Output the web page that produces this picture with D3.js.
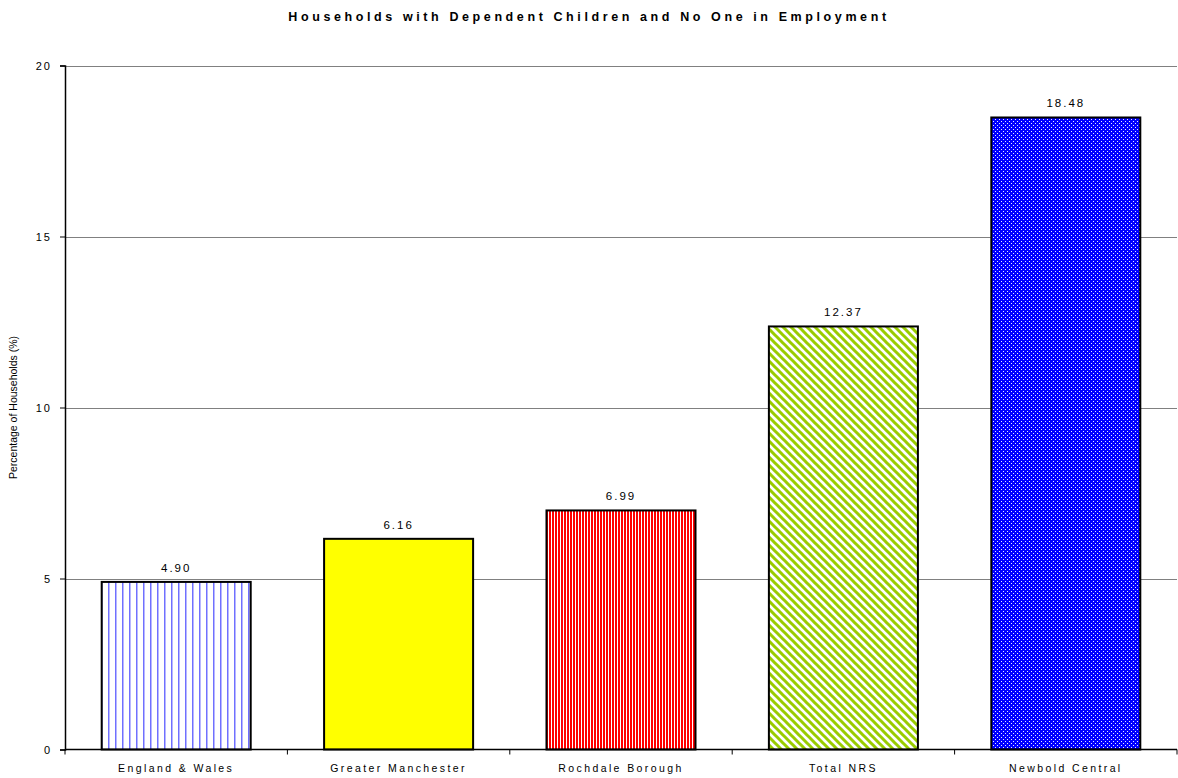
<!DOCTYPE html>
<html>
<head>
<meta charset="utf-8">
<script src="https://cdn.jsdelivr.net/npm/d3@7"></script>
<style>
html,body{margin:0;padding:0;background:#fff;}
svg{display:block;font-family:"Liberation Sans",Arial,sans-serif;}
</style>
</head>
<body>
<svg id="chart" width="1178" height="778"></svg>
<script>
const categories = ["England & Wales", "Greater Manchester", "Rochdale Borough", "Total NRS", "Newbold Central"];
const values = [4.90, 6.16, 6.99, 12.37, 18.48];
const yTicks = [0, 5, 10, 15, 20];
const title = "Households with Dependent Children and No One in Employment";
const yTitle = "Percentage of Households  (%)";
const fills = ["url(#pE)", "#ffff00", "url(#pR)", "url(#pN)", "url(#pB)"];

const svg = d3.select("#chart");
const W = 1178, H = 778;
const m = {left: 65, right: 1, top: 65.5, bottom: 28.5};

const defs = svg.append("defs");
// England & Wales: vertical blue lines on white
let p = defs.append("pattern").attr("id","pE").attr("patternUnits","userSpaceOnUse").attr("width",7).attr("height",7);
p.append("rect").attr("width",7).attr("height",7).attr("fill","#fff");
p.append("rect").attr("x",3).attr("width",1.5).attr("height",7).attr("fill","#7070ff");
// Rochdale: red vertical stripes
p = defs.append("pattern").attr("id","pR").attr("patternUnits","userSpaceOnUse").attr("width",3).attr("height",3);
p.append("rect").attr("width",3).attr("height",3).attr("fill","#fff");
p.append("rect").attr("width",2).attr("height",3).attr("fill","#ff0000");
// Total NRS: green downward diagonal
p = defs.append("pattern").attr("id","pN").attr("patternUnits","userSpaceOnUse").attr("width",8).attr("height",8);
p.append("rect").attr("width",8).attr("height",8).attr("fill","#fff");
p.append("path").attr("d","M-2,-2 L10,10 M-2,6 L2,10 M6,-2 L10,2").attr("stroke","#99cc00").attr("stroke-width",3);
// Newbold: blue with white dots
p = defs.append("pattern").attr("id","pB").attr("patternUnits","userSpaceOnUse").attr("width",4).attr("height",4);
p.append("rect").attr("width",4).attr("height",4).attr("fill","#0000ff");
p.append("rect").attr("x",1).attr("y",1).attr("width",1).attr("height",1).attr("fill","#e8e8ff");
p.append("rect").attr("x",3).attr("y",3).attr("width",1).attr("height",1).attr("fill","#e8e8ff");

const x = d3.scaleBand().domain(categories).range([m.left, W - m.right]).paddingInner(0.33).paddingOuter(0.165);
const y = d3.scaleLinear().domain([0, 20]).range([H - m.bottom, m.top]);

// gridlines
svg.append("g").selectAll("line").data(yTicks.filter(d => d > 0)).join("line")
  .attr("x1", m.left).attr("x2", W - m.right)
  .attr("y1", d => Math.round(y(d)) + 0.5).attr("y2", d => Math.round(y(d)) + 0.5)
  .attr("stroke", "#808080").attr("stroke-width", 1);

// bars
svg.append("g").selectAll("rect").data(values).join("rect")
  .attr("x", (d, i) => x(categories[i]))
  .attr("y", d => y(d))
  .attr("width", x.bandwidth())
  .attr("height", d => y(0) - y(d))
  .attr("fill", (d, i) => fills[i])
  .attr("stroke", "#000").attr("stroke-width", 2);

// value labels
svg.append("g").selectAll("text").data(values).join("text")
  .attr("x", (d, i) => x(categories[i]) + x.bandwidth() / 2)
  .attr("y", d => y(d) - 10)
  .attr("text-anchor", "middle")
  .attr("font-size", 11.5).attr("letter-spacing", 2).attr("fill", "#000")
  .text(d => d.toFixed(2));

// y axis
const yAxis = svg.append("g").attr("transform", `translate(${m.left},0)`)
  .call(d3.axisLeft(y).tickValues(yTicks).tickSize(5).tickPadding(8).tickFormat(d3.format("d")));
yAxis.select(".domain").attr("stroke", "#000").attr("stroke-width", 1.5);
yAxis.selectAll(".tick line").attr("stroke", "#000");
yAxis.selectAll("text").attr("font-size", 11).attr("letter-spacing", 2).attr("fill", "#000")
  .attr("font-family", "Liberation Sans, Arial, sans-serif");

// x axis
const xTickPos = d3.range(categories.length + 1).map(i => m.left + i * x.step());
const xg = svg.append("g");
xg.append("line").attr("x1", m.left).attr("x2", W - m.right)
  .attr("y1", y(0)).attr("y2", y(0)).attr("stroke", "#000").attr("stroke-width", 1.5);
xg.selectAll("line.t").data(xTickPos).join("line").attr("class", "t")
  .attr("x1", d => d).attr("x2", d => d).attr("y1", y(0)).attr("y2", y(0) + 5)
  .attr("stroke", "#000");
xg.selectAll("text").data(categories).join("text")
  .attr("x", d => x(d) + x.bandwidth() / 2)
  .attr("y", y(0) + 22)
  .attr("text-anchor", "middle")
  .attr("font-size", 10.5).attr("letter-spacing", 2.4).attr("fill", "#000")
  .text(d => d);

// title
svg.append("text").attr("x", 589).attr("y", 21).attr("text-anchor", "middle")
  .attr("font-size", 12.5).attr("font-weight", "bold").attr("letter-spacing", 3.6)
  .text(title);

// y axis title
svg.append("text").attr("transform", `translate(17,${(y(0) + y(20)) / 2}) rotate(-90)`)
  .attr("text-anchor", "middle").attr("font-size", 10.5)
  .text(yTitle);
</script>
</body>
</html>
